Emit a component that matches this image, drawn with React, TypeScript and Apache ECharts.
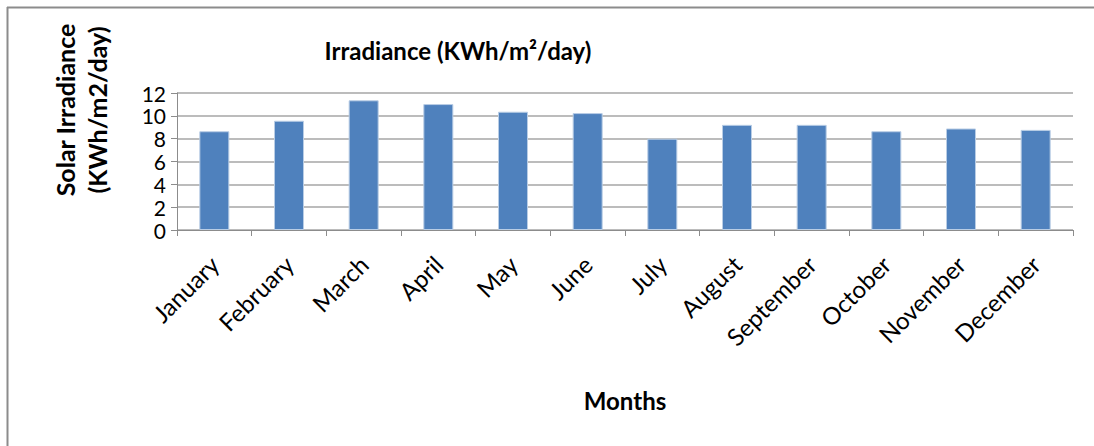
import React, { useEffect, useRef } from "react";
import * as echarts from "echarts";

const months = ["January", "February", "March", "April", "May", "June", "July", "August", "September", "October", "November", "December"];
const irradiance = [8.65, 9.57, 11.36, 11.03, 10.36, 10.24, 8.0, 9.21, 9.21, 8.65, 8.89, 8.77];
const yTicks = { min: 0, max: 12, interval: 2 };

const FONT = "Lato, 'Open Sans', sans-serif";

export default function App() {
  const ref = useRef<HTMLDivElement>(null);
  useEffect(() => {
    if (!ref.current) return;
    const chart = echarts.init(ref.current, null, { renderer: "svg" });
    chart.setOption({
      animation: false,
      backgroundColor: "#ffffff",
      textStyle: { fontFamily: FONT },
      grid: { left: 177, right: 21, top: 93, bottom: 216, containLabel: false },
      graphic: [
        { type: "line", shape: { x1: 7, y1: 7.5, x2: 1094, y2: 7.5 }, style: { stroke: "#8c8c8c", lineWidth: 2 } },
        { type: "line", shape: { x1: 7.5, y1: 7, x2: 7.5, y2: 446 }, style: { stroke: "#8c8c8c", lineWidth: 2 } },
        {
          type: "text",
          x: 458,
          y: 50,
          style: { text: "Irradiance (KWh/m²/day)", fontFamily: FONT, fontWeight: "bold", fontSize: 24, fill: "#000", align: "center", verticalAlign: "middle" },
        },
        {
          type: "text",
          x: 65,
          y: 110,
          rotation: Math.PI / 2,
          style: { text: "Solar Irradiance", fontFamily: FONT, fontWeight: "bold", fontSize: 25, fill: "#000", align: "center", verticalAlign: "middle" },
        },
        {
          type: "text",
          x: 97,
          y: 110,
          rotation: Math.PI / 2,
          style: { text: "(KWh/m2/day)", fontFamily: FONT, fontWeight: "bold", fontSize: 25, fill: "#000", align: "center", verticalAlign: "middle" },
        },
      ],
      xAxis: {
        type: "category",
        data: months,
        boundaryGap: true,
        name: "Months",
        nameLocation: "middle",
        nameGap: 158,
        nameTextStyle: { fontFamily: FONT, fontWeight: "bold", fontSize: 24, color: "#000" },
        axisLine: { lineStyle: { color: "#8c8c8c", width: 1 } },
        axisTick: { show: true, alignWithLabel: false, length: 6, lineStyle: { color: "#8c8c8c" } },
        axisLabel: { rotate: 45, fontSize: 24, color: "#000", fontFamily: FONT, margin: 30, interval: 0 },
        splitLine: { show: false },
      },
      yAxis: {
        type: "value",
        min: yTicks.min,
        max: yTicks.max,
        interval: yTicks.interval,
        axisLine: { show: true, lineStyle: { color: "#8c8c8c", width: 1 } },
        axisTick: { show: true, length: 6, lineStyle: { color: "#8c8c8c" } },
        axisLabel: { fontSize: 21, lineHeight: 21, color: "#000", fontFamily: FONT, margin: 11, showMinLabel: true, showMaxLabel: true, hideOverlap: false },
        splitLine: { show: true, lineStyle: { color: "#a6a6a6", width: 1.5 } },
      },
      series: [
        {
          type: "bar",
          data: irradiance,
          barWidth: 30,
          itemStyle: { color: "#4f81bd", borderColor: "#b9cde5", borderWidth: 1 },
        },
      ],
    });
    return () => chart.dispose();
  }, []);
  return <div ref={ref} style={{ position: "absolute", left: 0, top: 0, width: 1094, height: 446 }} />;
}
